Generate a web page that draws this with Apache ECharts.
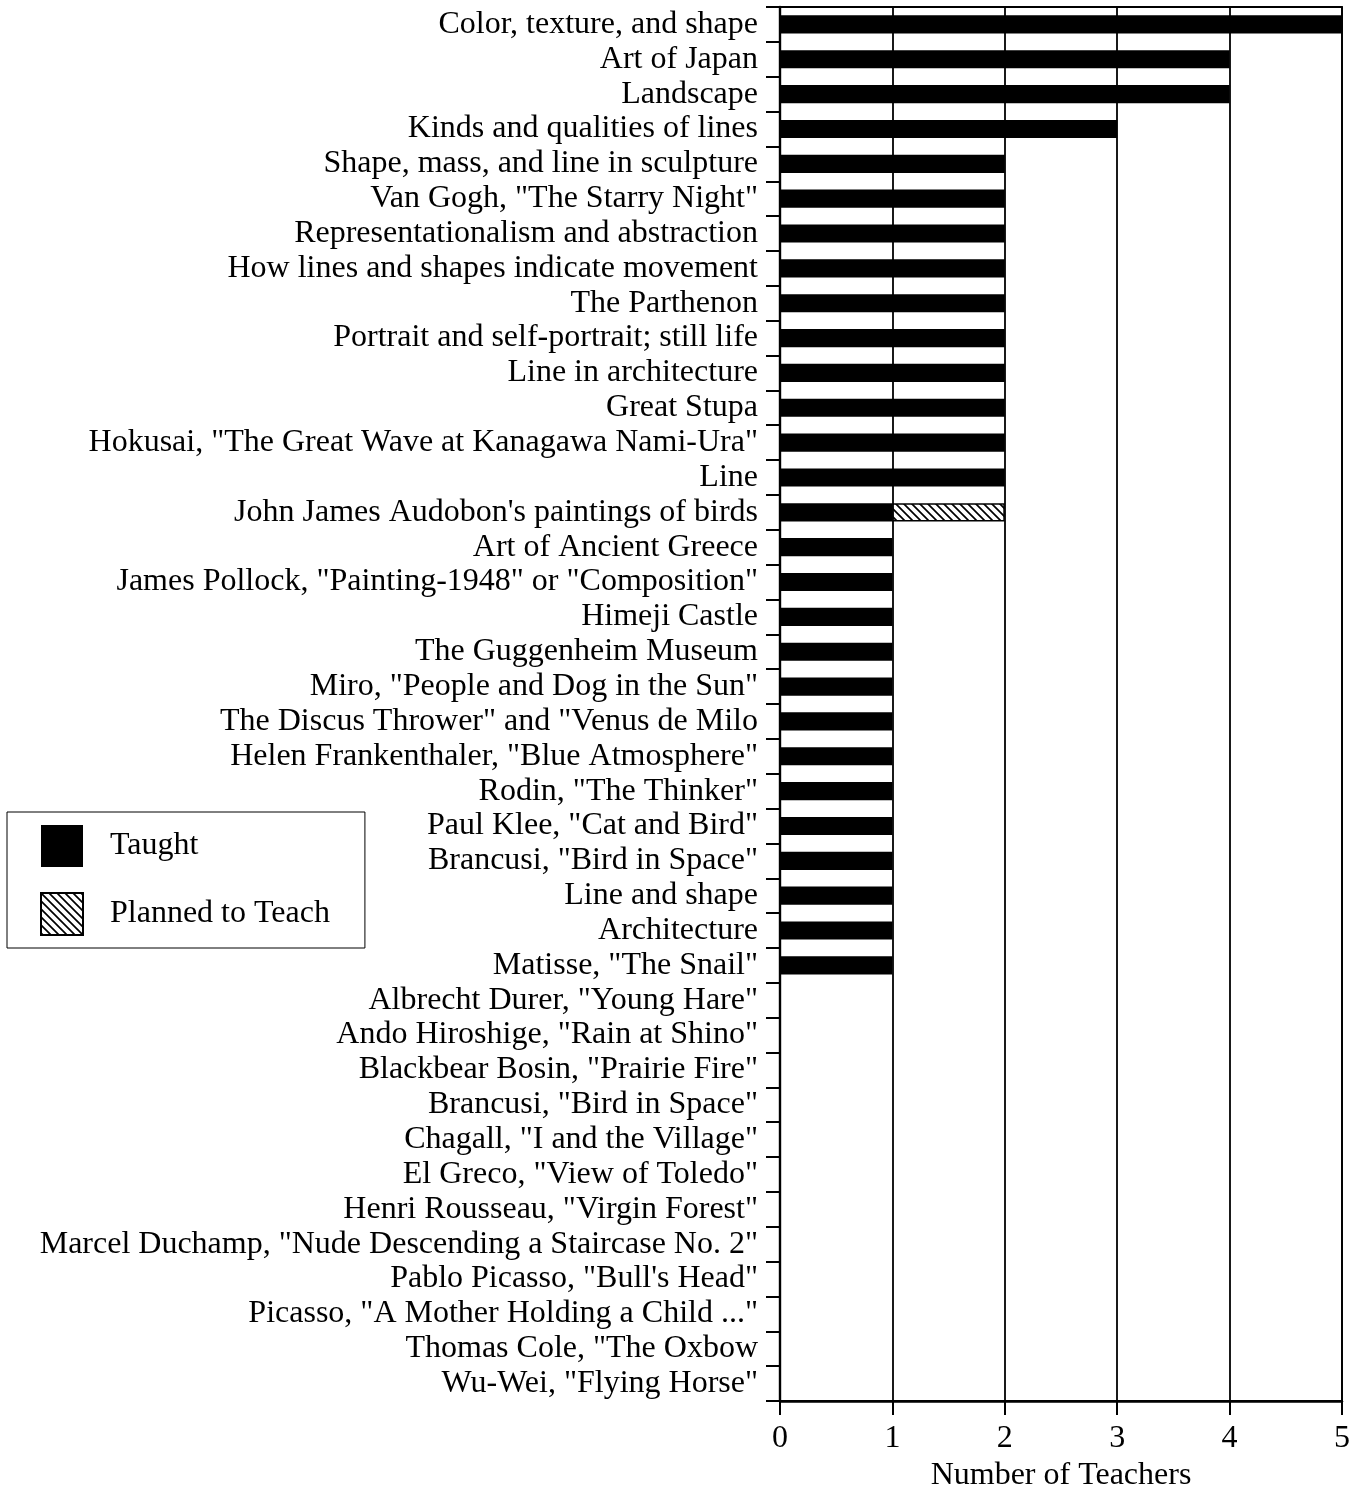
<!DOCTYPE html>
<html>
<head>
<meta charset="utf-8">
<script src="https://cdn.jsdelivr.net/npm/echarts@6/dist/echarts.min.js"></script>
<style>
  html, body { margin: 0; padding: 0; background: #fff; }
  #chart { width: 1367px; height: 1489px; }
</style>
</head>
<body>
<div id="chart"></div>
<script>
const categories = [
  'Color, texture, and shape',
  'Art of Japan',
  'Landscape',
  'Kinds and qualities of lines',
  'Shape, mass, and line in sculpture',
  'Van Gogh, "The Starry Night"',
  'Representationalism and abstraction',
  'How lines and shapes indicate movement',
  'The Parthenon',
  'Portrait and self-portrait; still life',
  'Line in architecture',
  'Great Stupa',
  'Hokusai, "The Great Wave at Kanagawa Nami-Ura"',
  'Line',
  "John James Audobon's paintings of birds",
  'Art of Ancient Greece',
  'James Pollock, "Painting-1948" or "Composition"',
  'Himeji Castle',
  'The Guggenheim Museum',
  'Miro, "People and Dog in the Sun"',
  'The Discus Thrower" and "Venus de Milo',
  'Helen Frankenthaler, "Blue Atmosphere"',
  'Rodin, "The Thinker"',
  'Paul Klee, "Cat and Bird"',
  'Brancusi, "Bird in Space"',
  'Line and shape',
  'Architecture',
  'Matisse, "The Snail"',
  'Albrecht Durer, "Young Hare"',
  'Ando Hiroshige, "Rain at Shino"',
  'Blackbear Bosin, "Prairie Fire"',
  'Brancusi, "Bird in Space"',
  'Chagall, "I and the Village"',
  'El Greco, "View of Toledo"',
  'Henri Rousseau, "Virgin Forest"',
  'Marcel Duchamp, "Nude Descending a Staircase No. 2"',
  'Pablo Picasso, "Bull\'s Head"',
  'Picasso, "A Mother Holding a Child ..."',
  'Thomas Cole, "The Oxbow',
  'Wu-Wei, "Flying Horse"'
];
const taught = [5,4,4,3,2,2,2,2,2,2,2,2,2,2,1,1,1,1,1,1,1,1,1,1,1,1,1,1,0,0,0,0,0,0,0,0,0,0,0,0];
const planned = [null,null,null,null,null,null,null,null,null,null,null,null,null,null,1,null,null,null,null,null,null,null,null,null,null,null,null,null,null,null,null,null,null,null,null,null,null,null,null,null];
const xTicks = [0,1,2,3,4,5];

// hatch pattern "\\\\"
function makeHatch() {
  const s = 8;
  const c = document.createElement('canvas');
  c.width = s; c.height = s;
  const g = c.getContext('2d');
  g.fillStyle = '#fff';
  g.fillRect(0, 0, s, s);
  g.strokeStyle = '#000';
  g.lineWidth = 1.7;
  g.beginPath();
  g.moveTo(-2, -2); g.lineTo(s + 2, s + 2);
  g.moveTo(-2, s - 2); g.lineTo(2, s + 2);
  g.moveTo(s - 2, -2); g.lineTo(s + 2, 2);
  g.stroke();
  return c;
}
const hatch = makeHatch();

const FONT = '"Liberation Serif", "Times New Roman", serif';
const FS = 32;
const chart = echarts.init(document.getElementById('chart'), null, { renderer: 'canvas' });
chart.setOption({
  backgroundColor: '#fff',
  animation: false,
  grid: {
    left: 780, right: 25, top: 7, bottom: 88,
    containLabel: false,
    outerBoundsMode: 'none',
    show: true, borderColor: '#000', borderWidth: 1.8, backgroundColor: 'transparent'
  },
  legend: {
    orient: 'vertical',
    left: 7, top: 812,
    padding: [13, 35, 12, 33],
    itemWidth: 42, itemHeight: 42, itemGap: 25,
    borderColor: '#000', borderWidth: 1,
    icon: 'rect',
    textStyle: { fontFamily: FONT, fontSize: FS, color: '#000', padding: [0, 0, 0, 22] },
    data: ['Taught', 'Planned to Teach']
  },
  xAxis: {
    type: 'value',
    min: xTicks[0], max: xTicks[xTicks.length - 1], interval: 1,
    name: 'Number of Teachers',
    nameLocation: 'middle',
    nameGap: 58,
    nameTextStyle: { fontFamily: FONT, fontSize: FS, color: '#000' },
    axisLine: { show: true, lineStyle: { color: '#000', width: 2.5 } },
    axisTick: { show: true, length: 14, lineStyle: { color: '#000', width: 2 } },
    axisLabel: { fontFamily: FONT, fontSize: FS, color: '#000', margin: 22 },
    splitLine: { show: true, lineStyle: { color: '#000', width: 1.8 } }
  },
  yAxis: {
    type: 'category',
    inverse: true,
    data: categories,
    axisLine: { show: true, lineStyle: { color: '#000', width: 2.4 } },
    axisTick: { show: true, length: 14, lineStyle: { color: '#000', width: 2 } },
    axisLabel: { fontFamily: FONT, fontSize: FS, color: '#000', margin: 22, interval: 0 },
    splitLine: { show: false }
  },
  series: [
    {
      name: 'Taught',
      type: 'bar',
      stack: 'a',
      data: taught,
      barWidth: '52%',
      itemStyle: { color: '#000' }
    },
    {
      name: 'Planned to Teach',
      type: 'bar',
      stack: 'a',
      data: planned,
      barWidth: '52%',
      itemStyle: { color: { image: hatch, repetition: 'repeat' }, borderColor: '#000', borderWidth: 1.5 }
    }
  ]
});
</script>
</body>
</html>
